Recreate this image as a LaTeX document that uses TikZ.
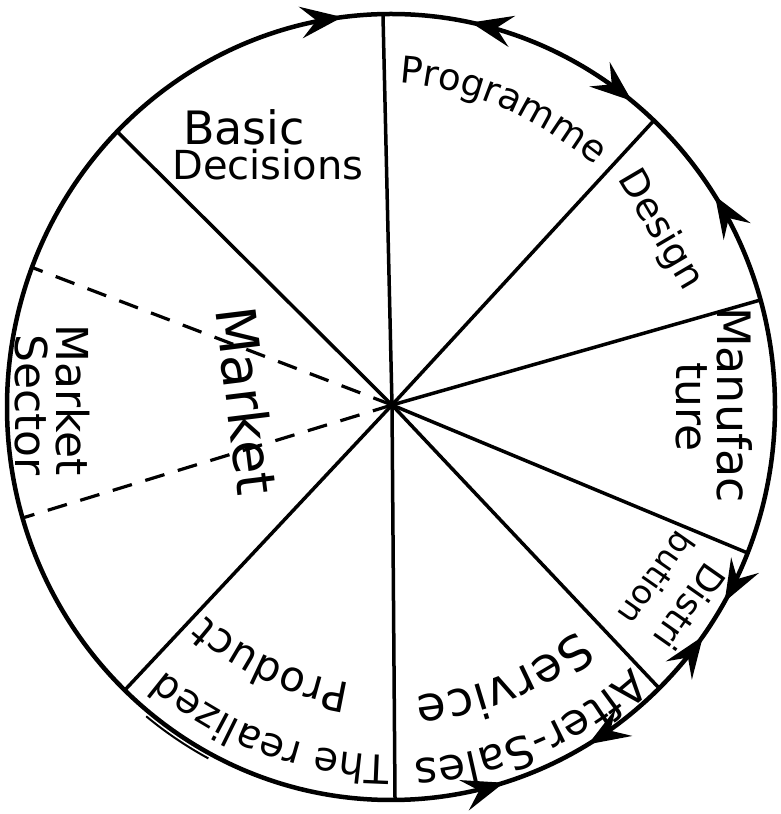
\documentclass[tikz,border=0pt]{standalone}
\usepackage{fontspec}
\setmainfont{DejaVu Sans}
\usetikzlibrary{decorations.text,decorations.markings,arrows.meta,calc}
\begin{document}
\begin{tikzpicture}[x=1pt,y=1pt,
  rim/.style={line width=4.5pt},
  spoke/.style={line width=3.5pt},
  dashspoke/.style={line width=3.2pt, dash pattern=on 20pt off 14pt},
  lbl/.style={inner sep=0pt},
]
\useasboundingbox (0,0) rectangle (780,814);
\coordinate (C) at (391,407);
\coordinate (O) at (392,409);
% spoke end points on the rim
\coordinate (p1) at ($(C)+(91.2:384pt and 393pt)$);
\coordinate (p2) at ($(C)+(135.5:384pt and 393pt)$);
\coordinate (p3) at ($(C)+(159.2:384pt and 393pt)$);
\coordinate (p4) at ($(C)+(196.4:384pt and 393pt)$);
\coordinate (p5) at ($(C)+(226.1:384pt and 393pt)$);
\coordinate (p6) at ($(C)+(270.6:384pt and 393pt)$);
\coordinate (p7) at ($(C)+(314.3:384pt and 393pt)$);
\coordinate (p8) at ($(C)+(338.2:384pt and 393pt)$);
\coordinate (p9) at ($(C)+(15.8:384pt and 393pt)$);
\coordinate (p10) at ($(C)+(46.8:384pt and 393pt)$);

\def\fwd{\fill (-42pt,-16pt) -- (0pt,0pt) -- (-42pt,16pt) -- (-26pt,0pt) -- cycle;}
\def\bwd{\fill (42pt,-16pt) -- (0pt,0pt) -- (42pt,16pt) -- (26pt,0pt) -- cycle;}

% rim with arrows
\draw[rim, postaction={decorate}, decoration={markings,
  mark=at position 0.091 with {\fwd},
  mark=at position 0.143 with {\bwd},
  mark=at position 0.217 with {\fwd},
  mark=at position 0.270 with {\bwd},
  mark=at position 0.797 with {\fwd},
  mark=at position 0.835 with {\bwd},
  mark=at position 0.900 with {\fwd},
  mark=at position 0.9167 with {\bwd}
  }] (C) ellipse [x radius=384pt, y radius=393pt];
\draw[line width=2pt] (C) ++(231:389pt and 398pt) arc [start angle=231, end angle=242, x radius=389pt, y radius=398pt];

% spokes
\foreach \p in {p1,p2,p5,p6,p7,p8,p9,p10} \draw[spoke] (O) -- (\p);
\draw[dashspoke] (O) -- (p3);
\draw[dashspoke] (O) -- (p4);
\fill (O) circle (5pt);

% straight labels
\node[lbl, anchor=base west, font=\fontsize{46}{50}\selectfont] (basic) at (183,669) {Basic};
\node[lbl, anchor=base west, font=\fontsize{40}{44}\selectfont] (decisions) at (172,634) {Decisions};
\node[lbl, rotate=-59.5, font=\fontsize{38}{42}\selectfont] (design) at (660,584) {Design};
\node[lbl, rotate=-90, font=\fontsize{46}{50}\selectfont] (manufac) at (735,409) {Manufac};
\node[lbl, rotate=-90, font=\fontsize{44}{48}\selectfont] (ture) at (692,407) {ture};
\node[lbl, rotate=-125, font=\fontsize{36}{40}\selectfont] (distri) at (690,207) {Distri};
\node[lbl, rotate=-125, font=\fontsize{33}{36}\selectfont] (bution) at (657,235) {bution};
\node[lbl, rotate=-83, font=\fontsize{55}{60}\selectfont] (market) at (247,413) {Market};
\node[lbl, rotate=-90, font=\fontsize{44}{48}\selectfont] (market2) at (73,414) {Market};
\node[lbl, rotate=-90, font=\fontsize{44}{48}\selectfont] (sector) at (32,409) {Sector};

% curved labels
\path[decorate, decoration={text along path,
  text={|\fontsize{37}{41}\selectfont|Programme}}]
  (399,731) .. controls (480,726) and (550,690) .. (622,626);
\path[decorate, decoration={text along path, text align=center,
  text={|\fontsize{44}{48}\selectfont|After-Sales}}]
  ($(O)+(-30:355pt)$) arc [start angle=-30, end angle=-104, radius=355pt];
\path[decorate, decoration={text along path, text align=center,
  text={|\fontsize{48}{52}\selectfont|Service}}]
  ($(O)+(-33:292pt)$) arc [start angle=-33, end angle=-103, radius=292pt];
\path[decorate, decoration={text along path, text align=center,
  text={|\fontsize{40}{44}\selectfont|The realized}}]
  ($(O)+(-72:350pt)$) arc [start angle=-72, end angle=-149, radius=350pt];
\path[decorate, decoration={text along path, text align=center,
  text={|\fontsize{42}{46}\selectfont|Product}}]
  ($(O)+(-79:281pt)$) arc [start angle=-79, end angle=-151, radius=281pt];
\end{tikzpicture}
\end{document}
